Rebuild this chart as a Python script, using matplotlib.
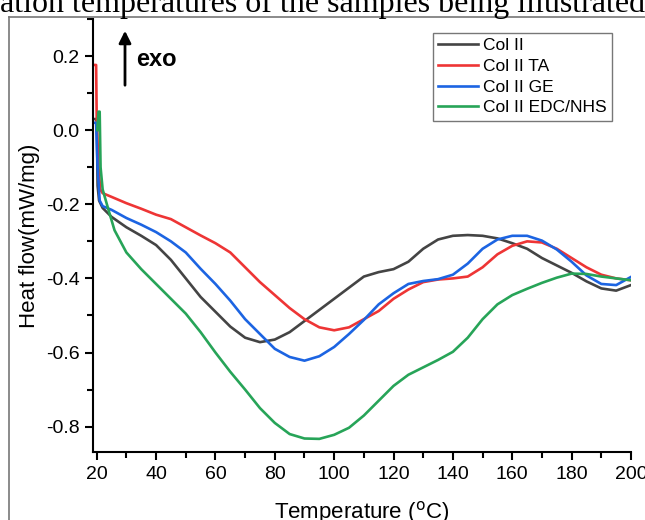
import matplotlib
matplotlib.use('Agg')
from matplotlib import pyplot as plt
from matplotlib.lines import Line2D
from matplotlib.ticker import MultipleLocator

plt.rcParams['font.family'] = ['Liberation Sans', 'DejaVu Sans']

labels = ['Col II', 'Col II TA', 'Col II GE', 'Col II EDC/NHS']
colors = ['#444444', '#ee3535', '#1c64e2', '#27a458']

# temperature (C) and heat flow (mW/mg)
t_col = [19.5, 20.0, 20.3, 20.8, 22, 25, 30, 35, 40, 45, 50, 55, 60, 65, 70, 75, 80, 85, 90,
         95, 100, 105, 110, 115, 120, 125, 130, 135, 140, 145, 150, 155, 160, 165, 170, 175,
         180, 185, 190, 195, 200]
hf_col = [0.03, 0.03, -0.15, -0.19, -0.21, -0.234, -0.262, -0.285, -0.31, -0.35, -0.40, -0.45,
          -0.49, -0.53, -0.56, -0.572, -0.565, -0.545, -0.515, -0.485, -0.455, -0.425, -0.395,
          -0.383, -0.375, -0.355, -0.32, -0.295, -0.285, -0.283, -0.285, -0.292, -0.305, -0.32,
          -0.345, -0.365, -0.385, -0.408, -0.427, -0.433, -0.418]

t_ta = [19.0, 19.8, 20.0, 20.6, 21.2, 22, 25, 30, 35, 40, 45, 50, 55, 60, 65, 70, 75, 80, 85,
        90, 95, 100, 105, 110, 115, 120, 125, 130, 135, 140, 145, 150, 155, 160, 165, 170, 175,
        180, 185, 190, 195, 200]
hf_ta = [0.176, 0.176, 0.03, -0.10, -0.16, -0.17, -0.18, -0.197, -0.212, -0.228, -0.24, -0.262,
         -0.284, -0.305, -0.33, -0.37, -0.41, -0.445, -0.48, -0.51, -0.532, -0.54, -0.532,
         -0.51, -0.488, -0.455, -0.43, -0.41, -0.403, -0.40, -0.395, -0.37, -0.335, -0.312,
         -0.30, -0.303, -0.32, -0.345, -0.37, -0.39, -0.40, -0.405]

t_ge = [19.2, 19.8, 20.3, 21, 22, 25, 30, 35, 40, 45, 50, 55, 60, 65, 70, 75, 80, 85, 90, 95,
        100, 105, 110, 115, 120, 125, 130, 135, 140, 145, 150, 155, 160, 165, 170, 175, 180,
        185, 190, 195, 200]
hf_ge = [0.02, 0.02, -0.10, -0.19, -0.205, -0.215, -0.237, -0.255, -0.275, -0.30, -0.33, -0.374,
         -0.415, -0.46, -0.51, -0.55, -0.59, -0.612, -0.622, -0.61, -0.585, -0.55, -0.512,
         -0.47, -0.44, -0.415, -0.407, -0.402, -0.39, -0.36, -0.32, -0.295, -0.285, -0.285,
         -0.298, -0.322, -0.355, -0.392, -0.415, -0.418, -0.396]

t_edc = [20.2, 20.6, 21.0, 21.3, 22, 24, 26, 30, 35, 40, 45, 50, 55, 60, 65, 70, 75, 80, 85, 90,
         95, 100, 105, 110, 115, 120, 125, 130, 135, 140, 145, 150, 155, 160, 165, 170, 175,
         180, 185, 190, 195, 200]
hf_edc = [0.0, 0.05, 0.05, -0.10, -0.16, -0.216, -0.27, -0.33, -0.375, -0.415, -0.455, -0.495,
          -0.545, -0.60, -0.652, -0.70, -0.75, -0.79, -0.82, -0.832, -0.833, -0.822, -0.803,
          -0.77, -0.73, -0.69, -0.66, -0.64, -0.62, -0.598, -0.56, -0.51, -0.47, -0.445,
          -0.428, -0.412, -0.398, -0.387, -0.388, -0.395, -0.40, -0.405]

W, H = 645, 520
fig = plt.figure(figsize=(W / 100, H / 100), dpi=100)
ax = fig.add_axes([93.3 / W, 1 - 451.7 / H, (631 - 93.3) / W, (451.7 - 19) / H])

series = [(t_col, hf_col), (t_ta, hf_ta), (t_ge, hf_ge), (t_edc, hf_edc)]
for (t, hf), lab, c in zip(series, labels, colors):
    ax.plot(t, hf, color=c, lw=1.9, label=lab)

ax.set_xlim(18.85, 200)
ax.set_ylim(-0.8676, 0.30)
ax.xaxis.set_major_locator(MultipleLocator(20))
ax.xaxis.set_minor_locator(MultipleLocator(10))
ax.yaxis.set_major_locator(MultipleLocator(0.2))
ax.yaxis.set_minor_locator(MultipleLocator(0.1))
ax.yaxis.set_major_formatter(plt.FuncFormatter(lambda v, p: f'{v:.1f}'))
for s in ['top', 'right']:
    ax.spines[s].set_visible(False)
for s in ['left', 'bottom']:
    ax.spines[s].set_linewidth(1.5)
ax.tick_params(which='major', direction='out', length=6, width=1.5, labelsize=14, pad=4)
ax.tick_params(which='minor', direction='out', length=4, width=1.5)

ax.set_xlabel('Temperature ($^{\\rm o}$C)', fontsize=16, labelpad=12)
ax.set_ylabel('Heat flow(mW/mg)', fontsize=16, labelpad=4)

leg = ax.legend(loc='upper left', bbox_to_anchor=(0.632, 0.968), fontsize=12.5, frameon=True,
                fancybox=False, handlelength=2.3, handletextpad=0.3, labelspacing=0.32,
                borderpad=0.3, borderaxespad=0)
leg.get_frame().set_edgecolor('#555555')
leg.get_frame().set_linewidth(1.0)

# exo arrow
ax.annotate('', xy=(125 / W, 1 - 28 / H), xytext=(125 / W, 1 - 88 / H),
            xycoords='figure fraction', textcoords='figure fraction',
            arrowprops=dict(arrowstyle='-|>', lw=2, color='black', mutation_scale=18))
fig.text(136 / W, 1 - 60 / H, 'exo', fontsize=17, fontweight='bold', va='center')

# page frame and caption fragment
fig.add_artist(Line2D([9 / W, 9 / W], [0, 1 - 17 / H], transform=fig.transFigure,
                      color='#777777', lw=1.2))
fig.add_artist(Line2D([9 / W, 1], [1 - 17 / H, 1 - 17 / H], transform=fig.transFigure,
                      color='#777777', lw=1.2))
fig.text(0.0, 1 - 12 / H, 'ation temperatures of the samples being illustrated',
         family='Liberation Serif', fontsize=23, va='baseline')

fig.savefig('out.png', dpi=100)
